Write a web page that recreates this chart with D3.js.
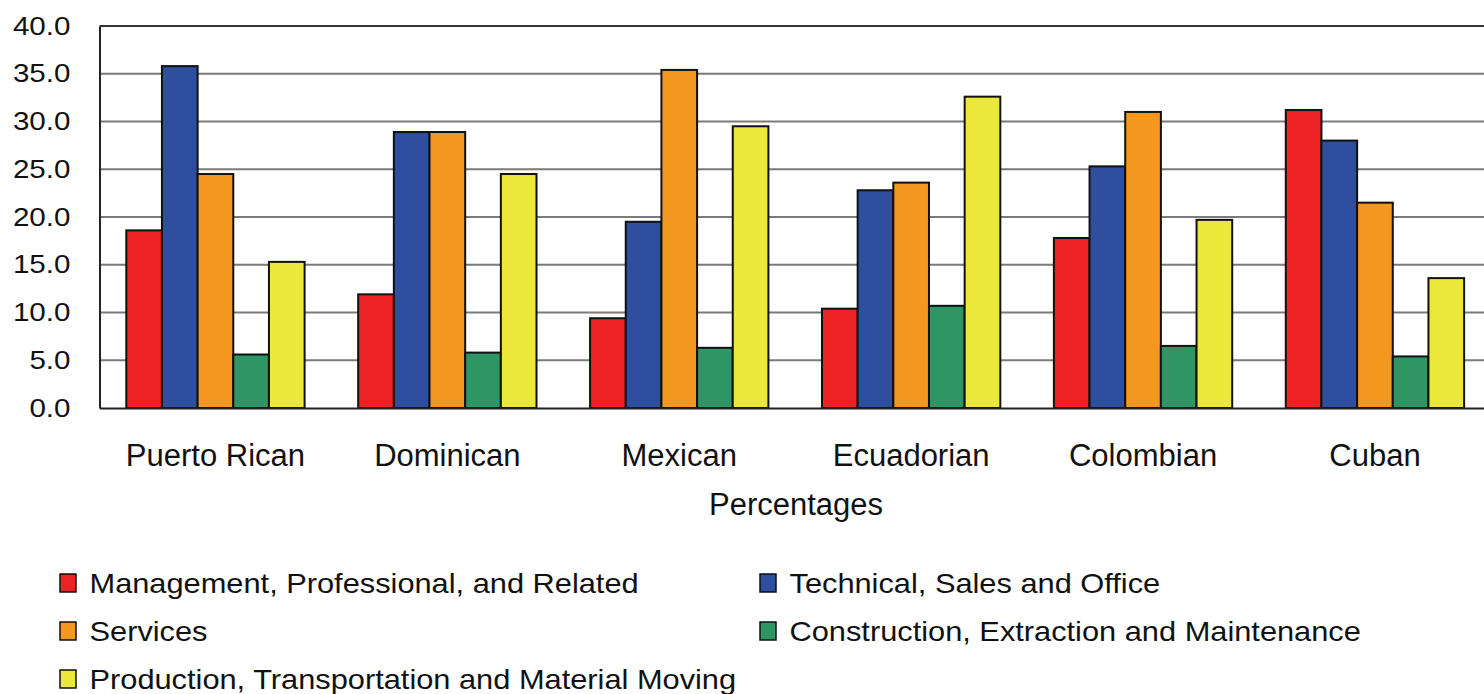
<!DOCTYPE html>
<html>
<head>
<meta charset="utf-8">
<script src="https://cdn.jsdelivr.net/npm/d3@7"></script>
<style>
  html, body { margin: 0; padding: 0; background: #fff; }
  svg { display: block; font-family: "Liberation Sans", Arial, sans-serif; }
</style>
</head>
<body>
<svg id="chart" width="1484" height="694"></svg>
<script>
// Occupation shares (percent) by Hispanic origin group
const categories = ["Puerto Rican", "Dominican", "Mexican", "Ecuadorian", "Colombian", "Cuban"];
const seriesNames = [
  "Management, Professional, and Related",
  "Technical, Sales and Office",
  "Services",
  "Construction, Extraction and Maintenance",
  "Production, Transportation and Material Moving"
];
const management   = [18.6, 11.9,  9.4, 10.4, 17.8, 31.2];
const technical    = [35.8, 28.9, 19.5, 22.8, 25.3, 28.0];
const services     = [24.5, 28.9, 35.4, 23.6, 31.0, 21.5];
const construction = [ 5.6,  5.8,  6.3, 10.7,  6.5,  5.4];
const production   = [15.3, 24.5, 29.5, 32.6, 19.7, 13.6];
const yTicks = [0, 5, 10, 15, 20, 25, 30, 35, 40];
const colors = ["#ED2224", "#2E4FA0", "#F4971F", "#2E9564", "#ECE83A"];

const seriesValues = [management, technical, services, construction, production];

const svg = d3.select("#chart");
const margin = { left: 99.5, top: 26, bottom: 286 };
const H = 694;
const plotW = 1391.4;            // runs past the right edge of the canvas
const plotH = H - margin.top - margin.bottom;

const g = svg.append("g").attr("transform", `translate(${margin.left},${margin.top})`);

const x0 = d3.scaleBand().domain(categories).range([0, plotW]).paddingInner(0.231).paddingOuter(0.1155);
const x1 = d3.scaleBand().domain(d3.range(seriesNames.length)).range([0, x0.bandwidth()]);
const y = d3.scaleLinear().domain([0, 40]).range([plotH, 0]);

// horizontal gridlines
g.append("g")
  .selectAll("line")
  .data(yTicks.filter(t => t > 0 && t < 40))
  .join("line")
  .attr("x1", 0).attr("x2", plotW)
  .attr("y1", d => y(d)).attr("y2", d => y(d))
  .attr("stroke", "#7a7a7a").attr("stroke-width", 2);

// top border
g.append("line")
  .attr("x1", 0).attr("x2", plotW)
  .attr("y1", y(40)).attr("y2", y(40))
  .attr("stroke", "#333").attr("stroke-width", 2);

// bars
const groups = g.append("g")
  .selectAll("g")
  .data(categories)
  .join("g")
  .attr("transform", d => `translate(${x0(d)},0)`);

groups.selectAll("rect")
  .data((d, i) => seriesValues.map((vals, s) => ({ s, v: vals[i] })))
  .join("rect")
  .attr("x", d => x1(d.s))
  .attr("y", d => y(d.v))
  .attr("width", x1.bandwidth())
  .attr("height", d => y(0) - y(d.v))
  .attr("fill", d => colors[d.s])
  .attr("stroke", "#111")
  .attr("stroke-width", 2);

// y axis (labels set slightly wide)
const yAxis = g.append("g")
  .call(d3.axisLeft(y).tickValues(yTicks).tickFormat(d3.format(".1f")).tickSize(0).tickPadding(0));
yAxis.select(".domain").attr("stroke", "#222").attr("stroke-width", 2);
yAxis.selectAll(".tick text")
  .attr("font-size", 25.5).attr("fill", "#111")
  .attr("font-family", "'Liberation Sans', Arial, sans-serif")
  .attr("x", null)
  .attr("transform", "translate(-29,0) scale(1.16,1)");

// x axis
const xAxis = g.append("g")
  .attr("transform", `translate(0,${plotH})`)
  .call(d3.axisBottom(x0).tickSize(0).tickPadding(0));
xAxis.select(".domain").attr("stroke", "#222").attr("stroke-width", 2);
xAxis.selectAll(".tick text")
  .attr("font-size", 31).attr("fill", "#111")
  .attr("font-family", "'Liberation Sans', Arial, sans-serif")
  .attr("dy", null)
  .attr("y", 57.5);

// x axis title
svg.append("text")
  .attr("x", 796).attr("y", 515)
  .attr("text-anchor", "middle")
  .attr("font-size", 31).attr("fill", "#111")
  .text("Percentages");

// legend
const legendPos = [
  { x: 60, y: 583 }, { x: 760, y: 583 },
  { x: 60, y: 631 }, { x: 760, y: 631 },
  { x: 60, y: 679 }
];
const legend = svg.append("g")
  .selectAll("g")
  .data(seriesNames)
  .join("g")
  .attr("transform", (d, i) => `translate(${legendPos[i].x},${legendPos[i].y})`);
legend.append("rect")
  .attr("x", 0).attr("y", -9).attr("width", 16).attr("height", 18)
  .attr("fill", (d, i) => colors[i])
  .attr("stroke", "#111").attr("stroke-width", 1.5);
legend.append("text")
  .attr("transform", "translate(29.5,10) scale(1.08,1)")
  .attr("font-size", 28.5).attr("fill", "#111")
  .text(d => d);
</script>
</body>
</html>
